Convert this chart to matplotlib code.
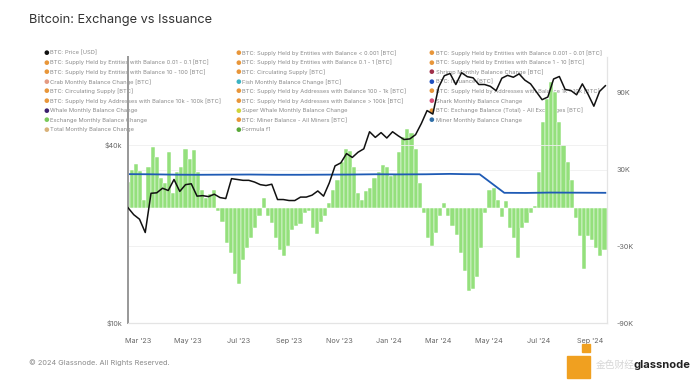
import numpy as np
import pandas as pd
import matplotlib
import matplotlib.pyplot as plt
import matplotlib.dates as mdates
from matplotlib.patches import Rectangle

matplotlib.use("Agg")
plt.rcParams["font.family"] = ["Inter", "DejaVu Sans"]

# ============================================================
# Data
# ============================================================
# BTC price, weekly, starting 2023-02-17
price_start = "2023-02-17"
btc_price = [
    24500, 23200, 22400, 20200, 27400, 27500, 28500,
    28000, 30500, 27800, 29300,
    29500, 26800, 26900, 26700,
    27200, 26500, 26300, 30700, 30500,
    30300, 30300, 29900, 29300,
    29100, 29400, 26100, 26100,
    25900, 25900, 26600, 26600, 27000,
    27900, 26800, 29700, 33900,
    34700, 37300, 36200, 37700,
    38700, 44200, 42300, 43900, 42100,
    44200, 42800, 41600, 41800,
    43200, 47100, 52100, 50700,
    62400, 68300, 69500, 63800, 69900,
    67800, 67200, 63800, 63800,
    62900, 60800, 67000, 68500, 67500,
    69300, 66000, 64100, 60300,
    56700, 57900, 66600, 67900,
    61400, 60900, 58900, 64100, 59100,
    53900, 60500, 63200,
]

# Exchange monthly balance change [K BTC], every 5 days from 2023-02-17
flow_start = "2023-02-17"
exchange_change = [
    20.5, 30.0, 34.0, 28.5, 6.3, 31.6, 47.4, 39.5, 23.7, 19.8,
    43.5, 11.9, 27.7, 31.6, 45.8, 37.9, 45.0, 28.4, 14.2, 7.9,
    11.0, 14.2, -2.4, -11.0, -27.7, -35.6, -51.4, -59.3, -41.0, -31.6,
    -23.7, -15.8, -6.3, 7.9, -6.3, -11.9, -23.7, -33.2, -37.9, -30.0,
    -17.4, -14.2, -12.6, -4.0, -2.4, -15.8, -20.5, -11.0, -6.3, 4.0,
    14.2, 22.1, 35.6, 45.8, 44.2, 31.6, 11.9, 6.3, 13.4, 15.8,
    23.7, 28.4, 33.2, 31.6, 25.3, 26.9, 43.5, 55.3, 61.6, 58.5,
    45.8, 19.8, -4.0, -23.7, -30.0, -19.8, -6.3, 4.0, -6.3, -14.2,
    -21.3, -35.6, -49.0, -64.8, -63.2, -53.7, -31.6, -4.0, 14.2, 15.8,
    6.3, -7.1, 5.5, -15.8, -23.7, -39.5, -15.8, -11.9, -4.0, 1.6,
    27.7, 67.2, 85.3, 98.8, 90.9, 67.2, 49.0, 35.6, 22.1, -7.9,
    -22.1, -47.4, -22.1, -25.3, -31.6, -37.9, -33.2,
]

# Monthly issuance [K BTC]
issuance_dates = [
    "2023-02-17", "2023-03-15", "2023-04-15", "2023-05-15", "2023-06-15",
    "2023-07-15", "2023-08-15", "2023-09-15", "2023-10-15", "2023-11-15",
    "2023-12-15", "2024-01-15", "2024-02-15", "2024-03-15", "2024-04-01",
    "2024-04-20", "2024-05-20", "2024-06-15", "2024-07-15", "2024-08-15",
    "2024-09-20",
]
issuance = [
    26.4, 26.3, 26.0, 25.9, 26.0, 26.1, 25.9, 25.9, 26.0, 26.1,
    26.3, 26.2, 26.3, 26.6, 26.4, 26.3, 11.8, 11.7, 12.0, 11.9, 11.8,
]

# Legend (3 columns)
legend_cols = [
    [("BTC: Price [USD]", "#111111"),
     ("BTC: Supply Held by Entities with Balance 0.01 - 0.1 [BTC]", "#e8963a"),
     ("BTC: Supply Held by Entities with Balance 10 - 100 [BTC]", "#e8963a"),
     ("Crab Monthly Balance Change [BTC]", "#e49a82"),
     ("BTC: Circulating Supply [BTC]", "#e8963a"),
     ("BTC: Supply Held by Addresses with Balance 10k - 100k [BTC]", "#e8963a"),
     ("Whale Monthly Balance Change", "#3b1f6e"),
     ("Exchange Monthly Balance Change", "#7ac95a"),
     ("Total Monthly Balance Change", "#d9b27a")],
    [("BTC: Supply Held by Entities with Balance < 0.001 [BTC]", "#e8963a"),
     ("BTC: Supply Held by Entities with Balance 0.1 - 1 [BTC]", "#e8963a"),
     ("BTC: Circulating Supply [BTC]", "#e8963a"),
     ("Fish Monthly Balance Change [BTC]", "#3bb3c3"),
     ("BTC: Supply Held by Addresses with Balance 100 - 1k [BTC]", "#e8963a"),
     ("BTC: Supply Held by Addresses with Balance > 100k [BTC]", "#e8963a"),
     ("Super Whale Monthly Balance Change", "#cfd43a"),
     ("BTC: Miner Balance - All Miners [BTC]", "#e8963a"),
     ("Formula f1", "#5aa83a")],
    [("BTC: Supply Held by Entities with Balance 0.001 - 0.01 [BTC]", "#e8963a"),
     ("BTC: Supply Held by Entities with Balance 1 - 10 [BTC]", "#e8963a"),
     ("Shrimp Monthly Balance Change [BTC]", "#a0304a"),
     ("BTC: Issuance [BTC]", "#1f4fbf"),
     ("BTC: Supply Held by Addresses with Balance 1k - 10k [BTC]", "#e8963a"),
     ("Shark Monthly Balance Change", "#d9507a"),
     ("BTC: Exchange Balance (Total) - All Exchanges [BTC]", "#e8963a"),
     ("Miner Monthly Balance Change", "#2f6fa8")],
]

# ============================================================
# Figure
# ============================================================
W, H = 700, 386


def fx(px):
    return px / W


def fy(py):
    return 1 - py / H


fig = plt.figure(figsize=(7.0, 3.86), dpi=100)
ax = fig.add_axes([fx(128), fy(323), fx(607) - fx(128), fy(57) - fy(323)])
ax2 = ax.twinx()

price_dates = pd.date_range(price_start, periods=len(btc_price), freq="7D")
flow_dates = pd.date_range(flow_start, periods=len(exchange_change), freq="5D")
iss_dates = pd.to_datetime(issuance_dates)

# legend text, drawn under the lines
x_cols = [46, 238, 431]
for col, x0 in zip(legend_cols, x_cols):
    for i, (label, color) in enumerate(col):
        yy = 53 + i * 9.6
        ax.text(fx(x0), fy(yy), "\u25CF", color=color, fontsize=4.5,
                transform=fig.transFigure, ha="center", va="center",
                clip_on=False, zorder=1)
        ax.text(fx(x0 + 4.5), fy(yy), label, color="#8a8a8a", fontsize=4.15,
                transform=fig.transFigure, ha="left", va="center",
                clip_on=False, zorder=1)

# right axis: monthly changes
ax.bar(flow_dates, np.array(exchange_change) * 1000, width=5,
       color="#94e07c", edgecolor="white", linewidth=0.35, zorder=2)
ax.plot(iss_dates, np.array(issuance) * 1000, color="#1f5bb5", lw=1.3, zorder=3)
ax.set_ylim(-90000, 118000)
ax.set_yticks([-90000, -30000, 30000, 90000])
ax.set_yticklabels(["-90K", "-30K", "30K", "90K"])
for t in [-30000, 30000]:
    ax.axhline(t, color="#efefef", lw=0.6, zorder=0)

# left axis: price (log)
ax2.plot(price_dates, btc_price, color="#111111", lw=1.1, zorder=5)
ax2.set_yscale("log")
ax2.set_ylim(10000, 79000)
ax2.set_yticks([10000, 40000])
ax2.set_yticklabels(["$10k", "$40k"])
ax2.yaxis.set_minor_locator(matplotlib.ticker.NullLocator())
ax2.axhline(40000, color="#efefef", lw=0.6, zorder=0)

# swap sides so price sits on the left
ax.yaxis.tick_right()
ax2.yaxis.tick_left()
ax2.patch.set_visible(False)

ax.set_xlim(pd.Timestamp("2023-02-17"), pd.Timestamp("2024-09-22"))
ax.xaxis.set_major_locator(mdates.MonthLocator(bymonth=[1, 3, 5, 7, 9, 11]))
ax.xaxis.set_major_formatter(mdates.DateFormatter("%b '%y"))

for a in (ax, ax2):
    a.tick_params(length=0, labelsize=5.2, colors="#666666")
    a.spines["top"].set_visible(False)
    a.spines["bottom"].set_color("#e4e4e4")
    a.spines["bottom"].set_linewidth(0.8)
    a.spines["right"].set_color("#e4e4e4")
    a.spines["left"].set_color("#9a9a9a")
    a.spines["left"].set_linewidth(1.4)
ax.tick_params(axis="x", pad=11)
ax.tick_params(axis="y", pad=7)
ax2.tick_params(axis="y", pad=4)

# title and footer
fig.text(fx(29), fy(20.5), "Bitcoin: Exchange vs Issuance", fontsize=9.2,
         color="#333333", ha="left", va="center")
fig.text(fx(29), fy(363), "\u00A9 2024 Glassnode. All Rights Reserved.",
         fontsize=5.3, color="#8a8a8a", ha="left", va="center")

# logo
fig.patches.append(Rectangle((fx(582), fy(352)), fx(8), fy(344) - fy(352),
                             transform=fig.transFigure, color="#f0a020"))
fig.patches.append(Rectangle((fx(567), fy(378)), fx(23), fy(356) - fy(378),
                             transform=fig.transFigure, color="#f0a020"))
fig.text(fx(596), fy(365), "金色财经", fontsize=7, color="#d6d6d6",
         ha="left", va="center", family=["Noto Sans CJK SC", "DejaVu Sans"])
fig.text(fx(690), fy(365), "glassnode", fontsize=8, color="#222222",
         ha="right", va="center", fontweight="bold")

fig.savefig("out.png", dpi=100)
